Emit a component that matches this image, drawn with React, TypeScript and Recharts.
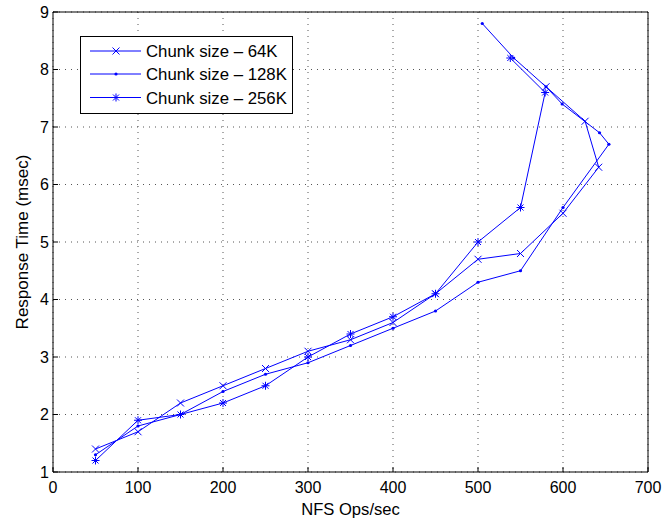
import { LineChart, Line, XAxis, YAxis, CartesianGrid, Legend } from 'recharts'

const BLUE = '#0000ff'
const FONT = '"Liberation Sans", Arial, Helvetica, sans-serif'
const FS = 16

const xTicks = [0, 100, 200, 300, 400, 500, 600, 700]
const yTicks = [1, 2, 3, 4, 5, 6, 7, 8, 9]

// Chunk size - 64K
const ops64 = [50, 100, 150, 200, 250, 300, 350, 400, 450, 500, 550, 600, 642, 626, 580]
const resp64 = [1.4, 1.7, 2.2, 2.5, 2.8, 3.1, 3.3, 3.6, 4.1, 4.7, 4.8, 5.5, 6.3, 7.1, 7.7]

// Chunk size - 128K
const ops128 = [50, 100, 150, 200, 250, 300, 350, 400, 450, 500, 550, 600, 654, 643, 599, 580, 542, 505]
const resp128 = [1.3, 1.8, 2.0, 2.4, 2.7, 2.9, 3.2, 3.5, 3.8, 4.3, 4.5, 5.6, 6.7, 6.9, 7.4, 7.7, 8.2, 8.8]

// Chunk size - 256K
const ops256 = [50, 100, 150, 200, 250, 300, 350, 400, 450, 500, 550, 579, 538]
const resp256 = [1.2, 1.9, 2.0, 2.2, 2.5, 3.0, 3.4, 3.7, 4.1, 5.0, 5.6, 7.6, 8.2]

const toPoints = (xs: number[], ys: number[]) => xs.map((x, i) => ({ x, y: ys[i] }))

const series = [
  { name: 'Chunk size \u2013 64K', data: toPoints(ops64, resp64), marker: 'cross' },
  { name: 'Chunk size \u2013 128K', data: toPoints(ops128, resp128), marker: 'dot' },
  { name: 'Chunk size \u2013 256K', data: toPoints(ops256, resp256), marker: 'star' },
]

function Marker({ type, cx, cy }: { type: string; cx: number; cy: number }) {
  if (cx == null || cy == null) return null
  if (type === 'dot') {
    return <circle cx={cx} cy={cy} r={1.6} fill={BLUE} stroke="none" />
  }
  if (type === 'cross') {
    const s = 3.5
    return (
      <path
        d={`M${cx - s},${cy - s}L${cx + s},${cy + s}M${cx - s},${cy + s}L${cx + s},${cy - s}`}
        stroke={BLUE}
        strokeWidth={1}
        fill="none"
      />
    )
  }
  // asterisk
  const s = 4
  const d = 3
  return (
    <path
      d={`M${cx - s},${cy}L${cx + s},${cy}M${cx},${cy - s}L${cx},${cy + s}M${cx - d},${cy - d}L${cx + d},${cy + d}M${cx - d},${cy + d}L${cx + d},${cy - d}`}
      stroke={BLUE}
      strokeWidth={1}
      fill="none"
    />
  )
}

function LegendBox() {
  const rows = [15, 38, 61.5]
  return (
    <svg width={214} height={79} style={{ display: 'block' }}>
      <rect x={0.5} y={0.5} width={212} height={77} fill="#fff" stroke="#000" strokeWidth={1} />
      {series.map((s, i) => (
        <g key={s.name}>
          <line x1={10} x2={61} y1={rows[i]} y2={rows[i]} stroke={BLUE} strokeWidth={1} />
          <Marker type={s.marker} cx={36} cy={rows[i]} />
          <text x={66} y={rows[i]} dy="0.36em" fontSize={16.8} fontFamily={FONT} fill="#000">
            {s.name}
          </text>
        </g>
      ))}
    </svg>
  )
}

export default function App() {
  return (
    <div style={{ position: 'absolute', left: 0, top: 0, width: 662, height: 520, background: '#fff', fontFamily: FONT }}>
      <LineChart width={662} height={520} margin={{ top: 11, right: 13, bottom: 0, left: 0 }}>
        <CartesianGrid stroke="#555" strokeDasharray="1 5" />
        <XAxis
          xAxisId={0}
          type="number"
          dataKey="x"
          domain={[0, 700]}
          ticks={xTicks}
          interval={0}
          height={48}
          tickSize={-5}
          tickMargin={15}
          axisLine={{ stroke: '#000' }}
          tickLine={{ stroke: '#000' }}
          tick={{ fill: '#000', fontSize: FS, fontFamily: FONT }}
          label={{ value: 'NFS Ops/sec', position: 'insideBottom', offset: 5, fill: '#000', fontSize: 16.6, fontFamily: FONT }}
        />
        <XAxis
          xAxisId="top"
          orientation="top"
          type="number"
          dataKey="x"
          domain={[0, 700]}
          allowDataOverflow
          ticks={xTicks}
          interval={0}
          height={1}
          tickSize={-5}
          tick={false}
          axisLine={{ stroke: '#000' }}
          tickLine={{ stroke: '#000' }}
        />
        <YAxis
          yAxisId={0}
          type="number"
          domain={[1, 9]}
          ticks={yTicks}
          interval={0}
          width={53}
          tickSize={-5}
          tickMargin={9}
          axisLine={{ stroke: '#000' }}
          tickLine={{ stroke: '#000' }}
          tick={{ fill: '#000', fontSize: FS, fontFamily: FONT }}
          label={{
            value: 'Response Time (msec)',
            angle: -90,
            position: 'insideLeft',
            offset: 22,
            fill: '#000',
            fontSize: 17,
            fontFamily: FONT,
            style: { textAnchor: 'middle' },
          }}
        />
        <YAxis
          yAxisId="right"
          orientation="right"
          type="number"
          domain={[1, 9]}
          allowDataOverflow
          ticks={yTicks}
          interval={0}
          width={1}
          tickSize={-5}
          tick={false}
          axisLine={{ stroke: '#000' }}
          tickLine={{ stroke: '#000' }}
        />
        {series.map((s) => (
          <Line
            key={s.name}
            name={s.name}
            data={s.data}
            dataKey="y"
            xAxisId={0}
            yAxisId={0}
            type="linear"
            stroke={BLUE}
            strokeWidth={1}
            isAnimationActive={false}
            dot={(p: any) => <Marker key={`${s.marker}-${p.index}`} type={s.marker} cx={p.cx} cy={p.cy} />}
            activeDot={false}
          />
        ))}
        <Legend
          layout="vertical"
          align="center"
          verticalAlign="middle"
          wrapperStyle={{ left: 80, top: 36, width: 214, height: 79 }}
          content={() => <LegendBox />}
        />
      </LineChart>
    </div>
  )
}
